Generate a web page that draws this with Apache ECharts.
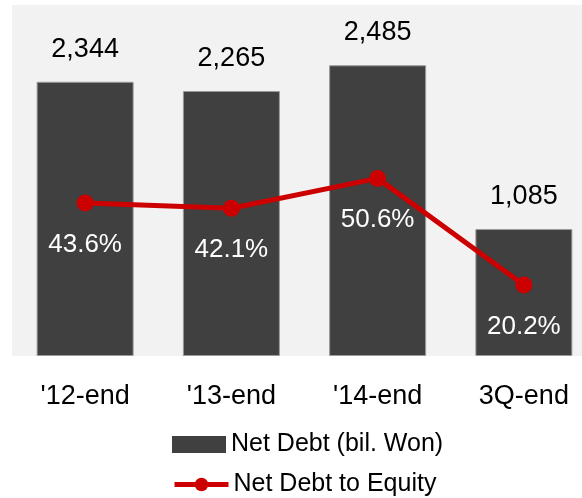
<!DOCTYPE html>
<head>
    <meta charset="utf-8">
    <title>Net Debt</title>
    <script src="https://cdn.jsdelivr.net/npm/echarts@6/dist/echarts.min.js"></script>
    <style>
        html, body { margin: 0; background: #fff; overflow: hidden; }
        /* plot runs past the right edge in the original, so the canvas is wider than the window */
        #main { width: 597px; height: 498px; }
    </style>
</head>
<body>
    <div id="main"></div>
    <script type="text/javascript">
        var categories = ["'12-end", "'13-end", "'14-end", "3Q-end"];
        var netDebt = [2344, 2265, 2485, 1085];
        var debtToEquity = [43.6, 42.1, 50.6, 20.2];

        var font = "'Liberation Sans', Arial, sans-serif";
        var myChart = echarts.init(document.getElementById('main'));
        var legendText = { fontFamily: font, fontSize: 25, color: '#000' };
        var option = {
            animation: false,
            textStyle: { fontFamily: font },
            grid: {
                left: 12, right: 0, top: 5, bottom: 142,
                show: true,
                backgroundColor: '#f2f2f2',
                borderWidth: 0
            },
            legend: [
                {
                    left: 172, top: 432, padding: 0,
                    itemWidth: 54, itemHeight: 17,
                    icon: 'rect',
                    itemStyle: { borderWidth: 0 },
                    textStyle: legendText,
                    data: ['Net Debt (bil. Won)']
                },
                {
                    left: 172, top: 472, padding: 0,
                    itemWidth: 54, itemHeight: 17,
                    lineStyle: { width: 5 },
                    textStyle: legendText,
                    data: ['Net Debt to Equity']
                }
            ],
            xAxis: {
                type: 'category',
                data: categories,
                axisLine: { show: false },
                axisTick: { show: false },
                axisLabel: { fontFamily: font, fontSize: 27, color: '#000', margin: 27 }
            },
            yAxis: [
                { type: 'value', min: 0, max: 3000, show: false, splitLine: { show: false } },
                { type: 'value', min: 0, max: 100, show: false, splitLine: { show: false } }
            ],
            series: [
                {
                    name: 'Net Debt (bil. Won)',
                    type: 'bar',
                    data: netDebt,
                    barWidth: 97,
                    itemStyle: { color: '#404040', borderColor: '#9a9a9a', borderWidth: 1 },
                    label: {
                        show: true,
                        position: 'top',
                        distance: 19,
                        fontFamily: font,
                        fontSize: 27,
                        color: '#000',
                        formatter: function (p) { return p.value.toLocaleString('en-US'); }
                    }
                },
                {
                    name: 'Net Debt to Equity',
                    type: 'line',
                    yAxisIndex: 1,
                    data: debtToEquity,
                    symbol: 'circle',
                    symbolSize: 17,
                    lineStyle: { color: '#cc0000', width: 5 },
                    itemStyle: { color: '#cc0000' },
                    label: {
                        show: true,
                        position: 'bottom',
                        distance: 20,
                        fontFamily: font,
                        fontSize: 26,
                        color: '#fff',
                        formatter: '{c}%'
                    }
                }
            ]
        };
        myChart.setOption(option);
    </script>
</body>
